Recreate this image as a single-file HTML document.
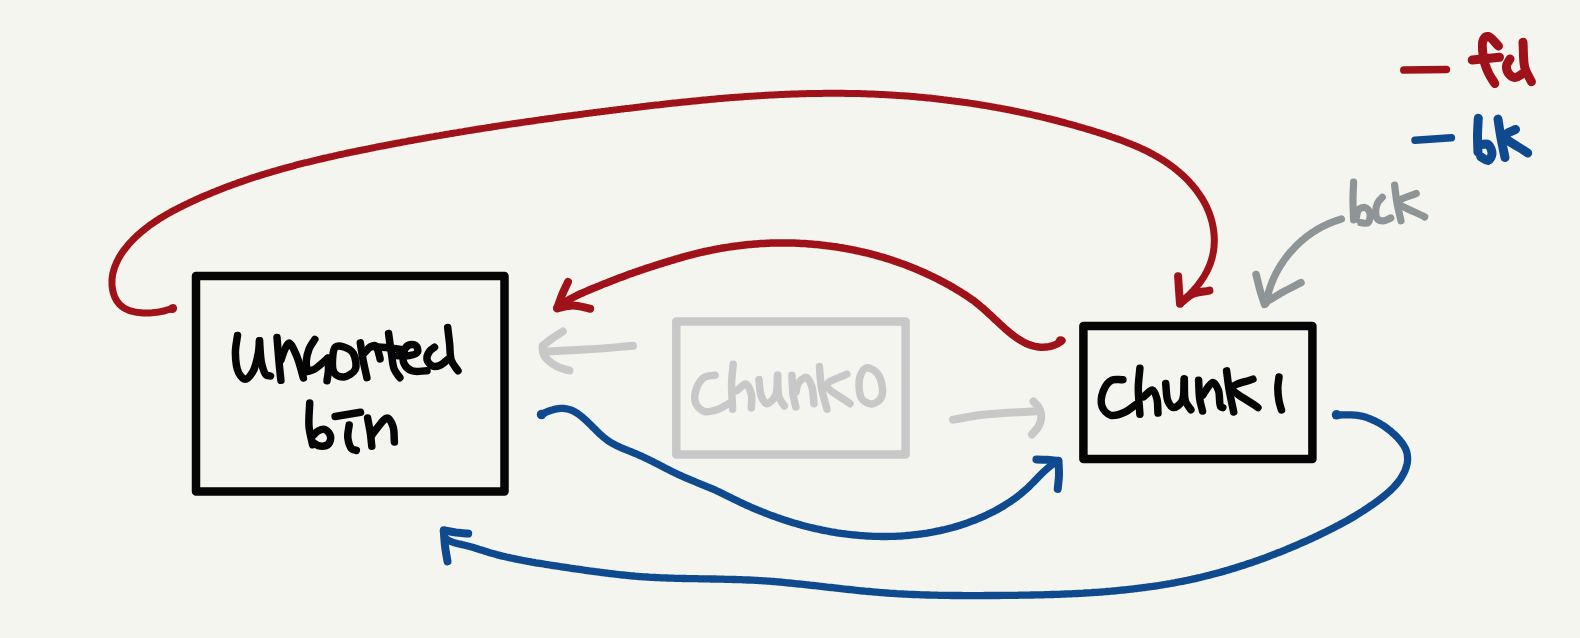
<!DOCTYPE html>
<html><head><meta charset="utf-8"><style>
html,body{margin:0;padding:0;background:#f5f5f0;}
body{width:1580px;height:638px;overflow:hidden;}
svg{display:block;}
</style></head><body>
<svg width="1580" height="638" viewBox="0 0 1580 638">
<rect width="1580" height="638" fill="#f5f5f0"/>
<g fill="none" stroke-linecap="round" stroke-linejoin="round">
<path d="M173.5,307.9 L171.9,308.5 L170.3,309.1 L168.5,309.7 L166.6,310.2 L164.7,310.8 L162.7,311.2 L160.6,311.6 L158.5,312.0 L156.4,312.3 L154.2,312.6 L152.0,312.8 L149.8,312.9 L147.5,313.0 L145.3,313.0 L143.1,313.0 L140.9,312.8 L138.7,312.6 L136.6,312.3 L134.5,311.9 L132.5,311.4 L130.5,310.9 L128.6,310.2 L126.8,309.4 L125.1,308.6 L123.5,307.6 L122.0,306.5 L120.6,305.3 L119.3,304.1 L118.2,302.7 L117.1,301.2 L116.1,299.7 L115.3,298.1 L114.5,296.4 L113.9,294.7 L113.3,292.9 L112.9,291.1 L112.5,289.2 L112.2,287.3 L112.0,285.4 L112.0,283.5 L112.0,281.5 L112.0,279.5 L112.2,277.6 L112.5,275.6 L112.8,273.7 L113.3,271.8 L113.8,269.9 L114.4,268.0 L115.0,266.2 L115.8,264.3 L116.6,262.5 L117.4,260.7 L118.4,258.9 L119.3,257.2 L120.4,255.4 L121.5,253.7 L122.6,252.0 L123.8,250.3 L125.1,248.7 L126.4,247.1 L127.7,245.5 L129.0,243.9 L130.4,242.4 L131.9,240.8 L133.3,239.3 L134.8,237.9 L136.3,236.4 L137.8,235.0 L139.4,233.6 L140.9,232.3 L142.5,231.0 L144.1,229.7 L145.7,228.4 L147.3,227.2 L148.9,225.9 L150.6,224.7 L152.2,223.6 L153.9,222.4 L155.5,221.3 L157.2,220.2 L158.9,219.1 L160.6,218.1 L162.3,217.0 L164.0,216.0 L165.7,215.0 L167.4,214.0 L169.2,213.0 L170.9,212.1 L172.6,211.1 L174.4,210.2 L176.2,209.3 L177.9,208.3 L179.7,207.4 L181.5,206.6 L183.2,205.7 L185.0,204.8 L186.8,203.9 L188.6,203.1 L190.4,202.2 L192.2,201.4 L194.0,200.6 L195.8,199.7 L197.6,198.9 L199.4,198.1 L201.2,197.3 L203.0,196.5 L204.9,195.7 L206.7,194.9 L208.5,194.2 L210.4,193.4 L212.2,192.6 L214.0,191.9 L215.9,191.2 L217.7,190.4 L219.6,189.7 L221.4,189.0 L223.3,188.2 L225.1,187.5 L227.0,186.8 L228.9,186.1 L230.7,185.4 L232.6,184.7 L234.5,184.1 L236.3,183.4 L238.2,182.7 L240.1,182.1 L242.0,181.4 L243.9,180.8 L245.8,180.1 L247.6,179.5 L249.5,178.8 L251.4,178.2 L253.3,177.6 L255.2,177.0 L257.1,176.4 L259.0,175.8 L261.0,175.2 L262.9,174.6 L264.8,174.0 L266.7,173.4 L268.6,172.8 L270.5,172.3 L272.4,171.7 L274.4,171.1 L276.3,170.6 L278.2,170.0 L280.2,169.5 L282.1,168.9 L284.0,168.4 L285.9,167.8 L287.9,167.3 L289.8,166.8 L291.8,166.3 L293.7,165.8 L295.6,165.2 L297.6,164.7 L299.5,164.2 L301.5,163.7 L303.4,163.2 L305.4,162.7 L307.3,162.3 L309.3,161.8 L311.2,161.3 L313.2,160.8 L315.2,160.3 L317.1,159.9 L319.1,159.4 L321.0,159.0 L323.0,158.5 L325.0,158.0 L326.9,157.6 L328.9,157.1 L330.9,156.7 L332.8,156.3 L334.8,155.8 L336.8,155.4 L338.7,154.9 L340.7,154.5 L342.7,154.1 L344.6,153.7 L346.6,153.2 L348.6,152.8 L350.6,152.4 L352.5,152.0 L354.5,151.6 L356.5,151.2 L358.5,150.8 L360.4,150.4 L362.4,150.0 L364.4,149.6 L366.4,149.2 L368.3,148.8 L370.3,148.4 L372.3,148.0 L374.3,147.6 L376.2,147.2 L378.2,146.8 L380.2,146.4 L382.2,146.0 L384.1,145.7 L386.1,145.3 L388.1,144.9 L390.1,144.5 L392.0,144.1 L394.0,143.8 L396.0,143.4 L398.0,143.0 L399.9,142.7 L401.9,142.3 L403.9,141.9 L405.9,141.6 L407.8,141.2 L409.8,140.8 L411.8,140.5 L413.8,140.1 L415.7,139.7 L417.7,139.4 L419.7,139.0 L421.7,138.7 L423.6,138.3 L425.6,138.0 L427.6,137.6 L429.6,137.3 L431.6,136.9 L433.5,136.6 L435.5,136.2 L437.5,135.9 L439.5,135.6 L441.4,135.2 L443.4,134.9 L445.4,134.5 L447.4,134.2 L449.3,133.9 L451.3,133.5 L453.3,133.2 L455.3,132.9 L457.2,132.6 L459.2,132.2 L461.2,131.9 L463.2,131.6 L465.1,131.2 L467.1,130.9 L469.1,130.6 L471.1,130.3 L473.0,130.0 L475.0,129.6 L477.0,129.3 L479.0,129.0 L480.9,128.7 L482.9,128.4 L484.9,128.1 L486.9,127.8 L488.9,127.5 L490.8,127.2 L492.8,126.8 L494.8,126.5 L496.8,126.2 L498.7,125.9 L500.7,125.6 L502.7,125.3 L504.7,125.0 L506.7,124.7 L508.6,124.4 L510.6,124.1 L512.6,123.8 L514.6,123.6 L516.5,123.3 L518.5,123.0 L520.5,122.7 L522.5,122.4 L524.5,122.1 L526.4,121.8 L528.4,121.5 L530.4,121.2 L532.4,121.0 L534.4,120.7 L536.3,120.4 L538.3,120.1 L540.3,119.8 L542.3,119.5 L544.3,119.3 L546.2,119.0 L548.2,118.7 L550.2,118.4 L552.2,118.2 L554.2,117.9 L556.1,117.6 L558.1,117.3 L560.1,117.1 L562.1,116.8 L564.1,116.5 L566.1,116.3 L568.0,116.0 L570.0,115.7 L572.0,115.5 L574.0,115.2 L576.0,114.9 L578.0,114.7 L579.9,114.4 L581.9,114.2 L583.9,113.9 L585.9,113.6 L587.9,113.4 L589.9,113.1 L591.9,112.9 L593.8,112.6 L595.8,112.4 L597.8,112.1 L599.8,111.9 L601.8,111.6 L603.8,111.4 L605.8,111.1 L607.8,110.9 L609.7,110.6 L611.7,110.4 L613.7,110.1 L615.7,109.9 L617.7,109.6 L619.7,109.4 L621.7,109.1 L623.7,108.9 L625.7,108.6 L627.7,108.4 L629.7,108.2 L631.6,107.9 L633.6,107.7 L635.6,107.4 L637.6,107.2 L639.6,107.0 L641.6,106.7 L643.6,106.5 L645.6,106.3 L647.6,106.0 L649.6,105.8 L651.6,105.6 L653.6,105.3 L655.6,105.1 L657.6,104.9 L659.6,104.7 L661.6,104.4 L663.5,104.2 L665.5,104.0 L667.5,103.8 L669.5,103.6 L671.5,103.3 L673.5,103.1 L675.5,102.9 L677.5,102.7 L679.5,102.5 L681.5,102.3 L683.5,102.1 L685.5,101.9 L687.5,101.7 L689.5,101.5 L691.5,101.3 L693.5,101.1 L695.5,100.9 L697.5,100.7 L699.5,100.5 L701.5,100.3 L703.5,100.1 L705.5,99.9 L707.5,99.7 L709.5,99.5 L711.5,99.3 L713.5,99.2 L715.5,99.0 L717.5,98.8 L719.5,98.6 L721.5,98.5 L723.5,98.3 L725.5,98.1 L727.5,98.0 L729.5,97.8 L731.5,97.6 L733.5,97.5 L735.5,97.3 L737.5,97.2 L739.5,97.0 L741.5,96.9 L743.5,96.7 L745.5,96.6 L747.5,96.5 L749.5,96.3 L751.5,96.2 L753.5,96.1 L755.6,95.9 L757.6,95.8 L759.6,95.7 L761.6,95.6 L763.6,95.4 L765.6,95.3 L767.6,95.2 L769.6,95.1 L771.6,95.0 L773.6,94.9 L775.6,94.8 L777.6,94.7 L779.6,94.6 L781.6,94.5 L783.6,94.4 L785.6,94.3 L787.6,94.2 L789.6,94.2 L791.6,94.1 L793.6,94.0 L795.6,94.0 L797.6,93.9 L799.6,93.8 L801.6,93.8 L803.6,93.7 L805.6,93.7 L807.6,93.6 L809.6,93.6 L811.7,93.5 L813.7,93.5 L815.7,93.4 L817.7,93.4 L819.7,93.4 L821.7,93.4 L823.7,93.3 L825.7,93.3 L827.7,93.3 L829.7,93.3 L831.7,93.3 L833.7,93.3 L835.7,93.3 L837.7,93.3 L839.7,93.3 L841.7,93.3 L843.7,93.3 L845.7,93.4 L847.7,93.4 L849.7,93.4 L851.7,93.5 L853.7,93.5 L855.7,93.5 L857.7,93.6 L859.7,93.6 L861.7,93.7 L863.7,93.8 L865.7,93.8 L867.7,93.9 L869.7,94.0 L871.7,94.0 L873.7,94.1 L875.7,94.2 L877.7,94.3 L879.7,94.4 L881.7,94.5 L883.7,94.6 L885.7,94.7 L887.7,94.8 L889.7,94.9 L891.7,95.0 L893.7,95.2 L895.7,95.3 L897.7,95.4 L899.7,95.6 L901.7,95.7 L903.7,95.8 L905.7,96.0 L907.7,96.1 L909.7,96.3 L911.7,96.5 L913.7,96.6 L915.7,96.8 L917.7,97.0 L919.7,97.2 L921.7,97.3 L923.7,97.5 L925.7,97.7 L927.7,97.9 L929.7,98.1 L931.7,98.3 L933.7,98.6 L935.7,98.8 L937.6,99.0 L939.6,99.2 L941.6,99.4 L943.6,99.7 L945.6,99.9 L947.6,100.2 L949.6,100.4 L951.6,100.7 L953.6,100.9 L955.5,101.2 L957.5,101.4 L959.5,101.7 L961.5,102.0 L963.5,102.3 L965.5,102.5 L967.5,102.8 L969.4,103.1 L971.4,103.4 L973.4,103.7 L975.4,104.0 L977.4,104.3 L979.3,104.6 L981.3,105.0 L983.3,105.3 L985.3,105.6 L987.3,105.9 L989.2,106.3 L991.2,106.6 L993.2,107.0 L995.2,107.3 L997.1,107.7 L999.1,108.0 L1001.1,108.4 L1003.0,108.8 L1005.0,109.1 L1007.0,109.5 L1008.9,109.9 L1010.9,110.3 L1012.9,110.7 L1014.8,111.1 L1016.8,111.5 L1018.8,111.9 L1020.7,112.3 L1022.7,112.7 L1024.7,113.1 L1026.6,113.6 L1028.6,114.0 L1030.5,114.4 L1032.5,114.9 L1034.5,115.3 L1036.4,115.8 L1038.4,116.2 L1040.3,116.7 L1042.3,117.1 L1044.2,117.6 L1046.2,118.1 L1048.1,118.5 L1050.1,119.0 L1052.0,119.5 L1054.0,120.0 L1055.9,120.5 L1057.9,121.0 L1059.8,121.5 L1061.7,122.0 L1063.7,122.5 L1065.6,123.0 L1067.6,123.6 L1069.5,124.1 L1071.4,124.6 L1073.4,125.2 L1075.3,125.7 L1077.3,126.3 L1079.2,126.8 L1081.1,127.4 L1083.0,127.9 L1085.0,128.5 L1086.9,129.1 L1088.8,129.6 L1090.8,130.2 L1092.7,130.8 L1094.6,131.4 L1096.5,132.0 L1098.4,132.6 L1100.4,133.2 L1102.3,133.8 L1104.2,134.4 L1106.1,135.0 L1108.0,135.7 L1109.9,136.3 L1111.8,137.0 L1113.7,137.6 L1115.6,138.3 L1117.5,138.9 L1119.4,139.6 L1121.3,140.3 L1123.2,141.0 L1125.1,141.7 L1126.9,142.4 L1128.8,143.2 L1130.7,143.9 L1132.5,144.7 L1134.4,145.4 L1136.2,146.2 L1138.0,147.0 L1139.9,147.8 L1141.7,148.7 L1143.5,149.5 L1145.3,150.4 L1147.1,151.2 L1148.8,152.1 L1150.6,153.1 L1152.4,154.0 L1154.1,154.9 L1155.8,155.9 L1157.6,156.9 L1159.3,157.9 L1161.0,159.0 L1162.7,160.0 L1164.4,161.1 L1166.0,162.2 L1167.7,163.3 L1169.3,164.5 L1170.9,165.6 L1172.5,166.8 L1174.1,168.0 L1175.7,169.3 L1177.3,170.6 L1178.8,171.9 L1180.3,173.2 L1181.9,174.5 L1183.3,175.9 L1184.8,177.3 L1186.3,178.7 L1187.7,180.1 L1189.1,181.6 L1190.4,183.1 L1191.8,184.6 L1193.1,186.1 L1194.4,187.7 L1195.6,189.3 L1196.9,190.9 L1198.0,192.5 L1199.2,194.1 L1200.3,195.8 L1201.4,197.5 L1202.5,199.2 L1203.5,200.9 L1204.5,202.7 L1205.4,204.4 L1206.3,206.2 L1207.1,208.0 L1207.9,209.9 L1208.7,211.7 L1209.4,213.6 L1210.1,215.5 L1210.7,217.4 L1211.3,219.3 L1211.8,221.2 L1212.3,223.2 L1212.7,225.2 L1213.1,227.1 L1213.4,229.1 L1213.7,231.1 L1213.9,233.1 L1214.1,235.1 L1214.2,237.2 L1214.3,239.2 L1214.3,241.2 L1214.2,243.2 L1214.1,245.2 L1214.0,247.2 L1213.7,249.2 L1213.5,251.1 L1213.1,253.1 L1212.7,255.1 L1212.3,257.0 L1211.8,258.9 L1211.2,260.8 L1210.6,262.7 L1209.9,264.6 L1209.1,266.4 L1208.3,268.3 L1207.5,270.1 L1206.6,271.9 L1205.6,273.6 L1204.6,275.4 L1203.6,277.1 L1202.5,278.8 L1201.3,280.5 L1200.2,282.1 L1199.0,283.8 L1197.7,285.4 L1196.5,286.9 L1195.2,288.5 L1193.8,290.0 L1192.5,291.5 L1191.1,293.0 L1189.7,294.5 L1188.3,295.9 L1186.8,297.3 L1185.4,298.7 L1183.9,300.0 L1182.4,301.3 L1180.9,302.6" stroke="#9f1219" stroke-width="7"/>
<path d="M1178.1,276.3C1178.4,280.9 1178.7,285.4 1179.0,290.0C1179.3,294.6 1179.7,299.2 1180.0,303.8" stroke="#9f1219" stroke-width="8"/>
<path d="M1181.0,302.5C1185.0,299.6 1188.4,295.9 1192.9,293.9C1197.8,291.8 1203.9,291.7 1209.4,290.6" stroke="#9f1219" stroke-width="8"/>
<path d="M1061.9,340.6 L1060.2,341.9 L1058.4,343.1 L1056.6,344.1 L1054.8,344.9 L1052.9,345.6 L1051.0,346.2 L1049.0,346.6 L1047.0,346.9 L1045.0,347.1 L1043.0,347.2 L1041.0,347.2 L1039.0,347.0 L1037.0,346.7 L1035.1,346.4 L1033.1,345.9 L1031.2,345.3 L1029.3,344.7 L1027.5,344.0 L1025.7,343.2 L1023.9,342.3 L1022.1,341.3 L1020.4,340.3 L1018.7,339.3 L1017.0,338.1 L1015.4,337.0 L1013.7,335.8 L1012.1,334.5 L1010.5,333.3 L1009.0,332.0 L1007.4,330.7 L1005.9,329.4 L1004.4,328.0 L1002.9,326.7 L1001.4,325.3 L999.9,324.0 L998.4,322.6 L997.0,321.2 L995.5,319.9 L994.0,318.5 L992.6,317.1 L991.1,315.7 L989.6,314.4 L988.1,313.0 L986.7,311.6 L985.2,310.3 L983.7,308.9 L982.2,307.6 L980.6,306.3 L979.1,305.0 L977.5,303.8 L976.0,302.5 L974.4,301.3 L972.8,300.1 L971.1,299.0 L969.5,297.8 L967.8,296.7 L966.2,295.5 L964.5,294.4 L962.8,293.4 L961.1,292.3 L959.4,291.2 L957.7,290.2 L956.0,289.2 L954.2,288.1 L952.5,287.1 L950.7,286.1 L949.0,285.1 L947.2,284.2 L945.5,283.2 L943.7,282.2 L941.9,281.3 L940.1,280.4 L938.3,279.4 L936.5,278.5 L934.7,277.6 L932.9,276.7 L931.1,275.9 L929.3,275.0 L927.5,274.2 L925.6,273.3 L923.8,272.5 L922.0,271.7 L920.1,270.9 L918.3,270.1 L916.4,269.3 L914.5,268.5 L912.7,267.8 L910.8,267.0 L908.9,266.3 L907.0,265.5 L905.1,264.8 L903.2,264.1 L901.3,263.4 L899.4,262.7 L897.5,262.1 L895.6,261.4 L893.7,260.8 L891.8,260.1 L889.9,259.5 L888.0,258.9 L886.0,258.3 L884.1,257.7 L882.2,257.1 L880.2,256.6 L878.3,256.0 L876.3,255.5 L874.4,254.9 L872.4,254.4 L870.5,253.9 L868.5,253.4 L866.6,252.9 L864.6,252.5 L862.6,252.0 L860.7,251.6 L858.7,251.1 L856.7,250.7 L854.7,250.3 L852.8,249.9 L850.8,249.5 L848.8,249.1 L846.8,248.7 L844.8,248.4 L842.9,248.0 L840.9,247.7 L838.9,247.4 L836.9,247.0 L834.9,246.7 L832.9,246.5 L830.9,246.2 L828.9,245.9 L826.9,245.7 L824.9,245.4 L822.9,245.2 L820.9,245.0 L818.9,244.7 L816.9,244.5 L814.9,244.4 L812.9,244.2 L810.9,244.0 L808.9,243.9 L806.9,243.7 L804.9,243.6 L802.9,243.5 L800.8,243.4 L798.8,243.3 L796.8,243.2 L794.8,243.1 L792.8,243.1 L790.8,243.0 L788.8,243.0 L786.8,242.9 L784.8,242.9 L782.7,242.9 L780.7,242.9 L778.7,242.9 L776.7,243.0 L774.7,243.0 L772.7,243.1 L770.7,243.1 L768.7,243.2 L766.6,243.3 L764.6,243.4 L762.6,243.5 L760.6,243.6 L758.6,243.7 L756.6,243.9 L754.6,244.0 L752.6,244.2 L750.6,244.4 L748.6,244.6 L746.6,244.8 L744.6,245.0 L742.6,245.2 L740.6,245.4 L738.6,245.7 L736.6,245.9 L734.6,246.2 L732.6,246.5 L730.6,246.8 L728.6,247.1 L726.6,247.4 L724.6,247.7 L722.6,248.0 L720.6,248.4 L718.7,248.7 L716.7,249.1 L714.7,249.5 L712.7,249.9 L710.8,250.3 L708.8,250.7 L706.8,251.1 L704.8,251.5 L702.9,252.0 L700.9,252.4 L698.9,252.9 L697.0,253.4 L695.0,253.9 L693.1,254.4 L691.1,254.9 L689.2,255.4 L687.2,255.9 L685.3,256.4 L683.3,257.0 L681.4,257.5 L679.5,258.1 L677.5,258.7 L675.6,259.2 L673.7,259.8 L671.7,260.4 L669.8,261.0 L667.9,261.5 L666.0,262.1 L664.0,262.7 L662.1,263.3 L660.2,263.9 L658.3,264.5 L656.4,265.1 L654.4,265.7 L652.5,266.4 L650.6,267.0 L648.7,267.6 L646.8,268.2 L644.9,268.8 L643.0,269.5 L641.1,270.1 L639.2,270.8 L637.3,271.4 L635.4,272.1 L633.5,272.7 L631.6,273.4 L629.7,274.1 L627.8,274.8 L625.9,275.5 L624.1,276.2 L622.2,276.9 L620.3,277.6 L618.4,278.3 L616.5,279.0 L614.7,279.7 L612.8,280.4 L610.9,281.2 L609.0,281.9 L607.2,282.7 L605.3,283.4 L603.4,284.1 L601.6,284.9 L599.7,285.7 L597.8,286.4 L596.0,287.2 L594.1,287.9 L592.2,288.7 L590.4,289.5 L588.5,290.3 L586.7,291.1 L584.8,291.9 L583.0,292.7 L581.1,293.5 L579.3,294.3 L577.5,295.2 L575.7,296.1 L573.9,297.0 L572.1,298.0 L570.4,298.9 L568.6,299.9 L566.9,301.0 L565.2,302.1 L563.6,303.2 L561.9,304.4 L560.3,305.6 L558.7,306.9 L557.2,308.2" stroke="#9f1219" stroke-width="7.5"/>
<path d="M568.0,281.9C566.0,286.3 563.8,290.6 562.0,295.0C560.2,299.4 558.8,303.8 557.2,308.2" stroke="#9f1219" stroke-width="8"/>
<path d="M557.2,308.2C562.5,307.3 567.8,305.3 573.2,305.4C578.8,305.5 584.5,307.6 590.1,308.7" stroke="#9f1219" stroke-width="8"/>
<path d="M1403.8,70.1 L1446.4,69.6" stroke="#9f1219" stroke-width="7.5"/>
<path d="M1498.5,46.0C1495.1,42.9 1491.1,36.9 1488.2,36.6C1486.4,36.4 1484.5,37.6 1483.5,39.4C1481.6,42.7 1482.6,52.5 1483.5,58.2C1484.3,63.3 1486.2,68.0 1488.2,72.3C1490.0,76.4 1492.6,79.8 1494.8,83.6" stroke="#9f1219" stroke-width="9"/>
<path d="M1472.2,60.1 L1499.5,57.3" stroke="#9f1219" stroke-width="9"/>
<path d="M1510.0,59.0C1508.8,61.3 1506.7,63.5 1506.5,66.0C1506.3,68.5 1507.5,72.1 1509.0,74.0C1510.4,75.8 1512.9,77.4 1515.0,77.5C1517.2,77.6 1519.7,75.2 1522.0,74.0" stroke="#9f1219" stroke-width="9"/>
<path d="M1523.0,42.2C1523.6,50.7 1523.0,60.5 1524.8,67.6C1526.2,73.1 1529.2,77.0 1531.4,81.7" stroke="#9f1219" stroke-width="9"/>
<path d="M540.9,414.8 L542.7,413.8 L544.6,412.9 L546.5,412.0 L548.5,411.2 L550.5,410.5 L552.5,409.9 L554.5,409.3 L556.6,408.9 L558.6,408.6 L560.6,408.4 L562.6,408.4 L564.5,408.5 L566.4,408.8 L568.3,409.2 L570.1,409.7 L571.8,410.4 L573.6,411.2 L575.3,412.1 L576.9,413.1 L578.5,414.2 L580.1,415.4 L581.7,416.6 L583.2,417.9 L584.7,419.2 L586.2,420.6 L587.7,422.0 L589.1,423.4 L590.6,424.8 L592.0,426.3 L593.4,427.7 L594.9,429.1 L596.3,430.6 L597.8,432.0 L599.2,433.4 L600.7,434.7 L602.2,436.1 L603.7,437.4 L605.3,438.6 L606.9,439.8 L608.5,441.0 L610.2,442.1 L611.9,443.1 L613.6,444.1 L615.4,445.0 L617.2,445.9 L619.0,446.7 L620.8,447.6 L622.7,448.4 L624.5,449.2 L626.4,449.9 L628.3,450.7 L630.2,451.4 L632.0,452.2 L633.9,453.0 L635.8,453.7 L637.7,454.5 L639.5,455.3 L641.4,456.1 L643.2,457.0 L645.0,457.8 L646.8,458.7 L648.6,459.6 L650.4,460.4 L652.2,461.3 L654.0,462.3 L655.8,463.2 L657.6,464.1 L659.4,465.0 L661.2,465.9 L663.0,466.8 L664.7,467.8 L666.5,468.7 L668.3,469.6 L670.1,470.5 L671.9,471.4 L673.7,472.3 L675.5,473.2 L677.3,474.0 L679.1,474.9 L680.9,475.7 L682.7,476.5 L684.6,477.3 L686.4,478.1 L688.3,478.9 L690.1,479.7 L692.0,480.5 L693.8,481.2 L695.7,482.0 L697.6,482.8 L699.4,483.5 L701.3,484.3 L703.1,485.0 L705.0,485.8 L706.9,486.6 L708.7,487.3 L710.6,488.1 L712.4,488.9 L714.3,489.7 L716.1,490.5 L717.9,491.4 L719.7,492.2 L721.6,493.1 L723.4,494.0 L725.2,494.9 L727.0,495.8 L728.8,496.7 L730.6,497.6 L732.4,498.5 L734.2,499.3 L736.0,500.2 L737.8,501.1 L739.6,502.0 L741.4,502.8 L743.2,503.7 L745.1,504.5 L746.9,505.4 L748.7,506.2 L750.6,507.0 L752.4,507.8 L754.3,508.6 L756.1,509.4 L758.0,510.2 L759.8,510.9 L761.7,511.7 L763.6,512.4 L765.4,513.2 L767.3,513.9 L769.2,514.6 L771.1,515.3 L773.0,516.0 L774.9,516.7 L776.8,517.4 L778.7,518.0 L780.6,518.7 L782.5,519.3 L784.4,520.0 L786.3,520.6 L788.2,521.2 L790.1,521.8 L792.0,522.4 L794.0,523.0 L795.9,523.5 L797.8,524.1 L799.8,524.6 L801.7,525.2 L803.6,525.7 L805.6,526.2 L807.5,526.7 L809.5,527.2 L811.4,527.7 L813.4,528.1 L815.3,528.6 L817.3,529.0 L819.3,529.4 L821.2,529.9 L823.2,530.3 L825.2,530.7 L827.1,531.0 L829.1,531.4 L831.1,531.8 L833.1,532.1 L835.0,532.4 L837.0,532.8 L839.0,533.1 L841.0,533.4 L843.0,533.6 L845.0,533.9 L847.0,534.2 L848.9,534.4 L850.9,534.6 L852.9,534.8 L854.9,535.0 L856.9,535.2 L858.9,535.4 L860.9,535.6 L862.9,535.7 L864.9,535.9 L866.9,536.0 L869.0,536.1 L871.0,536.2 L873.0,536.3 L875.0,536.3 L877.0,536.4 L879.0,536.4 L881.0,536.5 L883.0,536.5 L885.0,536.5 L887.1,536.5 L889.1,536.4 L891.1,536.4 L893.1,536.3 L895.1,536.3 L897.1,536.2 L899.2,536.1 L901.2,536.0 L903.2,535.8 L905.2,535.7 L907.2,535.5 L909.2,535.3 L911.2,535.1 L913.2,534.9 L915.2,534.7 L917.2,534.5 L919.2,534.2 L921.2,534.0 L923.2,533.7 L925.2,533.4 L927.2,533.1 L929.2,532.7 L931.2,532.4 L933.2,532.0 L935.1,531.6 L937.1,531.2 L939.1,530.8 L941.0,530.4 L943.0,529.9 L945.0,529.5 L946.9,529.0 L948.9,528.5 L950.8,528.0 L952.7,527.5 L954.7,526.9 L956.6,526.4 L958.5,525.8 L960.5,525.2 L962.4,524.6 L964.3,523.9 L966.2,523.3 L968.1,522.6 L969.9,521.9 L971.8,521.2 L973.7,520.5 L975.6,519.8 L977.4,519.0 L979.3,518.2 L981.1,517.5 L983.0,516.6 L984.8,515.8 L986.6,515.0 L988.4,514.1 L990.2,513.2 L992.0,512.3 L993.8,511.4 L995.6,510.5 L997.4,509.5 L999.1,508.5 L1000.9,507.5 L1002.6,506.5 L1004.3,505.5 L1006.0,504.4 L1007.7,503.3 L1009.4,502.2 L1011.1,501.1 L1012.7,500.0 L1014.4,498.8 L1016.0,497.6 L1017.6,496.4 L1019.2,495.2 L1020.7,493.9 L1022.3,492.6 L1023.8,491.3 L1025.3,490.0 L1026.8,488.7 L1028.3,487.3 L1029.7,485.9 L1031.1,484.5 L1032.6,483.0 L1034.0,481.6 L1035.4,480.2 L1036.8,478.7 L1038.2,477.3 L1039.6,475.8 L1041.0,474.4 L1042.4,473.0 L1043.9,471.6 L1045.4,470.3 L1046.9,468.9 L1048.4,467.6 L1049.9,466.4 L1051.5,465.1 L1053.2,464.0 L1054.9,462.8 L1056.6,461.8 L1058.4,460.7" stroke="#104a8e" stroke-width="7.3"/>
<path d="M1036.4,459.4C1039.9,459.5 1043.5,459.6 1047.0,459.8C1050.6,460.0 1054.1,460.4 1057.7,460.7" stroke="#104a8e" stroke-width="8"/>
<path d="M1058.5,461.0C1058.7,465.7 1059.1,470.4 1059.0,475.1C1058.9,479.7 1058.1,484.3 1057.7,488.9" stroke="#104a8e" stroke-width="8"/>
<path d="M1335.9,415.1 L1338.1,415.1 L1340.1,415.0 L1342.2,414.9 L1344.2,414.9 L1346.2,414.9 L1348.2,414.9 L1350.1,414.9 L1352.1,414.9 L1354.0,415.1 L1355.9,415.2 L1357.8,415.5 L1359.6,415.7 L1361.5,416.1 L1363.3,416.6 L1365.1,417.1 L1366.9,417.6 L1368.8,418.3 L1370.6,419.0 L1372.4,419.8 L1374.2,420.6 L1376.0,421.5 L1377.8,422.4 L1379.6,423.4 L1381.4,424.5 L1383.2,425.6 L1384.9,426.8 L1386.6,428.0 L1388.3,429.3 L1390.0,430.6 L1391.6,432.0 L1393.2,433.4 L1394.8,434.8 L1396.3,436.3 L1397.7,437.8 L1399.2,439.4 L1400.5,441.0 L1401.8,442.6 L1403.0,444.3 L1404.0,446.0 L1405.0,447.7 L1405.8,449.4 L1406.5,451.2 L1407.0,453.0 L1407.3,454.8 L1407.5,456.6 L1407.6,458.4 L1407.6,460.3 L1407.4,462.1 L1407.1,463.9 L1406.6,465.7 L1406.1,467.5 L1405.5,469.3 L1404.8,471.1 L1403.9,472.9 L1403.0,474.7 L1402.0,476.4 L1401.0,478.1 L1399.9,479.7 L1398.7,481.4 L1397.4,483.0 L1396.1,484.5 L1394.8,486.0 L1393.4,487.5 L1391.9,489.0 L1390.5,490.4 L1388.9,491.8 L1387.4,493.2 L1385.8,494.5 L1384.2,495.8 L1382.6,497.1 L1381.0,498.4 L1379.3,499.7 L1377.7,500.9 L1376.0,502.1 L1374.4,503.3 L1372.7,504.5 L1371.0,505.6 L1369.3,506.8 L1367.7,507.9 L1366.0,509.0 L1364.3,510.1 L1362.6,511.2 L1360.9,512.3 L1359.2,513.4 L1357.5,514.4 L1355.8,515.5 L1354.1,516.5 L1352.4,517.5 L1350.7,518.5 L1349.0,519.5 L1347.3,520.5 L1345.5,521.4 L1343.8,522.4 L1342.1,523.3 L1340.3,524.3 L1338.6,525.2 L1336.8,526.1 L1335.1,527.0 L1333.3,527.9 L1331.6,528.8 L1329.8,529.7 L1328.1,530.6 L1326.3,531.5 L1324.5,532.3 L1322.7,533.2 L1320.9,534.1 L1319.2,534.9 L1317.4,535.8 L1315.6,536.6 L1313.8,537.5 L1312.0,538.3 L1310.2,539.1 L1308.3,540.0 L1306.5,540.8 L1304.7,541.6 L1302.9,542.4 L1301.1,543.2 L1299.2,544.0 L1297.4,544.8 L1295.6,545.6 L1293.7,546.4 L1291.9,547.2 L1290.0,548.0 L1288.2,548.7 L1286.3,549.5 L1284.4,550.3 L1282.6,551.0 L1280.7,551.8 L1278.8,552.5 L1277.0,553.2 L1275.1,554.0 L1273.2,554.7 L1271.3,555.4 L1269.4,556.1 L1267.6,556.9 L1265.7,557.6 L1263.8,558.3 L1261.9,558.9 L1260.0,559.6 L1258.1,560.3 L1256.2,561.0 L1254.3,561.6 L1252.4,562.3 L1250.4,563.0 L1248.5,563.6 L1246.6,564.2 L1244.7,564.9 L1242.8,565.5 L1240.8,566.1 L1238.9,566.7 L1237.0,567.3 L1235.1,567.9 L1233.1,568.5 L1231.2,569.1 L1229.3,569.7 L1227.3,570.3 L1225.4,570.8 L1223.5,571.4 L1221.5,571.9 L1219.6,572.5 L1217.6,573.0 L1215.7,573.5 L1213.7,574.0 L1211.8,574.5 L1209.8,575.1 L1207.9,575.5 L1205.9,576.0 L1204.0,576.5 L1202.0,577.0 L1200.1,577.5 L1198.1,577.9 L1196.2,578.4 L1194.2,578.8 L1192.2,579.2 L1190.3,579.7 L1188.3,580.1 L1186.4,580.5 L1184.4,580.9 L1182.4,581.3 L1180.5,581.7 L1178.5,582.0 L1176.5,582.4 L1174.6,582.8 L1172.6,583.1 L1170.6,583.5 L1168.7,583.8 L1166.7,584.2 L1164.7,584.5 L1162.7,584.8 L1160.8,585.2 L1158.8,585.5 L1156.8,585.8 L1154.8,586.1 L1152.9,586.4 L1150.9,586.6 L1148.9,586.9 L1146.9,587.2 L1145.0,587.5 L1143.0,587.7 L1141.0,588.0 L1139.0,588.2 L1137.0,588.5 L1135.0,588.7 L1133.1,589.0 L1131.1,589.2 L1129.1,589.4 L1127.1,589.6 L1125.1,589.8 L1123.1,590.0 L1121.1,590.2 L1119.2,590.4 L1117.2,590.6 L1115.2,590.8 L1113.2,591.0 L1111.2,591.2 L1109.2,591.3 L1107.2,591.5 L1105.2,591.7 L1103.2,591.8 L1101.2,592.0 L1099.3,592.1 L1097.3,592.3 L1095.3,592.4 L1093.3,592.5 L1091.3,592.7 L1089.3,592.8 L1087.3,592.9 L1085.3,593.0 L1083.3,593.2 L1081.3,593.3 L1079.3,593.4 L1077.3,593.5 L1075.3,593.6 L1073.3,593.7 L1071.3,593.8 L1069.3,593.9 L1067.3,593.9 L1065.3,594.0 L1063.3,594.1 L1061.3,594.2 L1059.3,594.3 L1057.3,594.3 L1055.3,594.4 L1053.3,594.5 L1051.3,594.5 L1049.3,594.6 L1047.3,594.6 L1045.3,594.7 L1043.3,594.8 L1041.3,594.8 L1039.3,594.9 L1037.3,594.9 L1035.2,594.9 L1033.2,595.0 L1031.2,595.0 L1029.2,595.1 L1027.2,595.1 L1025.2,595.1 L1023.2,595.2 L1021.2,595.2 L1019.2,595.2 L1017.2,595.3 L1015.2,595.3 L1013.2,595.3 L1011.2,595.3 L1009.2,595.4 L1007.2,595.4 L1005.1,595.4 L1003.1,595.4 L1001.1,595.4 L999.1,595.5 L997.1,595.5 L995.1,595.5 L993.1,595.5 L991.1,595.5 L989.1,595.5 L987.1,595.5 L985.1,595.5 L983.1,595.6 L981.1,595.6 L979.0,595.6 L977.0,595.6 L975.0,595.6 L973.0,595.6 L971.0,595.6 L969.0,595.6 L967.0,595.6 L965.0,595.6 L963.0,595.6 L961.0,595.5 L959.0,595.5 L957.0,595.5 L954.9,595.5 L952.9,595.5 L950.9,595.5 L948.9,595.4 L946.9,595.4 L944.9,595.4 L942.9,595.3 L940.9,595.3 L938.9,595.3 L936.9,595.2 L934.9,595.2 L932.9,595.1 L930.9,595.1 L928.9,595.0 L926.9,595.0 L924.9,594.9 L922.9,594.8 L920.9,594.8 L918.8,594.7 L916.8,594.6 L914.8,594.5 L912.8,594.5 L910.8,594.4 L908.8,594.3 L906.8,594.2 L904.8,594.1 L902.8,594.0 L900.8,593.9 L898.8,593.8 L896.8,593.7 L894.8,593.5 L892.8,593.4 L890.8,593.3 L888.8,593.1 L886.8,593.0 L884.8,592.9 L882.8,592.7 L880.8,592.6 L878.8,592.4 L876.8,592.2 L874.9,592.1 L872.9,591.9 L870.9,591.7 L868.9,591.5 L866.9,591.3 L864.9,591.2 L862.9,591.0 L860.9,590.8 L858.9,590.6 L856.9,590.4 L854.9,590.2 L852.9,589.9 L850.9,589.7 L848.9,589.5 L846.9,589.3 L845.0,589.1 L843.0,588.9 L841.0,588.6 L839.0,588.4 L837.0,588.2 L835.0,588.0 L833.0,587.7 L831.0,587.5 L829.0,587.3 L827.0,587.1 L825.1,586.8 L823.1,586.6 L821.1,586.4 L819.1,586.2 L817.1,585.9 L815.1,585.7 L813.1,585.5 L811.1,585.3 L809.1,585.0 L807.1,584.8 L805.1,584.6 L803.2,584.4 L801.2,584.2 L799.2,584.0 L797.2,583.8 L795.2,583.6 L793.2,583.4 L791.2,583.2 L789.2,583.0 L787.2,582.8 L785.2,582.6 L783.2,582.4 L781.2,582.2 L779.2,582.0 L777.3,581.9 L775.3,581.7 L773.3,581.5 L771.3,581.4 L769.3,581.2 L767.3,581.1 L765.3,580.9 L763.3,580.8 L761.3,580.7 L759.3,580.6 L757.3,580.4 L755.3,580.3 L753.3,580.2 L751.3,580.1 L749.3,580.0 L747.3,580.0 L745.3,579.9 L743.3,579.8 L741.3,579.7 L739.3,579.6 L737.3,579.6 L735.3,579.5 L733.3,579.5 L731.3,579.4 L729.3,579.3 L727.3,579.3 L725.2,579.3 L723.2,579.2 L721.2,579.2 L719.2,579.1 L717.2,579.1 L715.2,579.0 L713.2,579.0 L711.2,579.0 L709.2,578.9 L707.2,578.9 L705.2,578.9 L703.2,578.8 L701.2,578.8 L699.2,578.8 L697.2,578.7 L695.2,578.7 L693.2,578.7 L691.2,578.6 L689.1,578.6 L687.1,578.6 L685.1,578.5 L683.1,578.5 L681.1,578.4 L679.1,578.4 L677.1,578.3 L675.1,578.3 L673.1,578.2 L671.1,578.1 L669.1,578.1 L667.1,578.0 L665.1,577.9 L663.1,577.9 L661.1,577.8 L659.1,577.7 L657.1,577.6 L655.1,577.5 L653.1,577.4 L651.1,577.3 L649.1,577.2 L647.1,577.0 L645.1,576.9 L643.1,576.8 L641.1,576.6 L639.1,576.5 L637.1,576.3 L635.1,576.2 L633.1,576.0 L631.1,575.8 L629.1,575.6 L627.1,575.4 L625.1,575.2 L623.1,575.0 L621.1,574.8 L619.2,574.6 L617.2,574.4 L615.2,574.2 L613.2,573.9 L611.2,573.7 L609.2,573.5 L607.2,573.2 L605.2,573.0 L603.2,572.7 L601.2,572.5 L599.3,572.2 L597.3,571.9 L595.3,571.7 L593.3,571.4 L591.3,571.1 L589.3,570.9 L587.3,570.6 L585.3,570.3 L583.4,570.0 L581.4,569.7 L579.4,569.4 L577.4,569.1 L575.4,568.9 L573.4,568.6 L571.4,568.3 L569.5,568.0 L567.5,567.7 L565.5,567.4 L563.5,567.1 L561.5,566.8 L559.5,566.5 L557.6,566.2 L555.6,565.9 L553.6,565.6 L551.6,565.3 L549.6,565.0 L547.6,564.7 L545.7,564.4 L543.7,564.0 L541.7,563.7 L539.7,563.4 L537.7,563.1 L535.8,562.8 L533.8,562.4 L531.8,562.1 L529.8,561.7 L527.9,561.4 L525.9,561.0 L523.9,560.7 L522.0,560.3 L520.0,559.9 L518.0,559.5 L516.1,559.1 L514.1,558.7 L512.2,558.3 L510.2,557.9 L508.3,557.4 L506.3,557.0 L504.4,556.5 L502.4,556.1 L500.5,555.6 L498.5,555.1 L496.6,554.6 L494.7,554.0 L492.7,553.5 L490.8,553.0 L488.9,552.4 L487.0,551.8 L485.0,551.2 L483.1,550.6 L481.2,550.0 L479.3,549.4 L477.4,548.8 L475.5,548.2 L473.6,547.6 L471.6,547.0 L469.7,546.5 L467.8,546.0 L465.8,545.5 L463.9,545.0 L462.0,544.6 L460.0,544.1 L458.1,543.7 L456.2,543.2 L454.4,542.7 L452.6,542.1 L450.8,541.5 L449.2,540.7 L447.6,539.9 L446.1,538.9 L444.7,537.7" stroke="#104a8e" stroke-width="7.3"/>
<path d="M443.8,530.3C447.9,531.0 451.9,531.9 456.0,532.5C460.1,533.0 464.1,533.2 468.2,533.6" stroke="#104a8e" stroke-width="8"/>
<path d="M443.8,531.0C444.2,536.0 444.4,541.0 445.0,546.0C445.6,551.1 446.7,556.3 447.5,561.4" stroke="#104a8e" stroke-width="8"/>
<path d="M1415.0,140.3 L1451.4,137.8" stroke="#104a8e" stroke-width="7.5"/>
<path d="M1478.3,118.2C1478.0,123.8 1477.6,129.4 1477.5,135.0C1477.4,140.6 1477.8,146.3 1477.9,152.0" stroke="#104a8e" stroke-width="9"/>
<path d="M1480.7,144.5C1483.2,144.5 1486.4,143.3 1488.2,144.5C1490.3,145.9 1492.2,151.1 1492.0,153.9C1491.8,156.3 1490.0,160.0 1488.2,160.5C1486.3,161.1 1483.2,158.0 1480.7,156.7" stroke="#104a8e" stroke-width="9"/>
<path d="M1498.0,119.1C1499.0,125.4 1499.8,131.7 1501.0,138.0C1502.2,144.5 1503.7,151.1 1505.0,157.6" stroke="#104a8e" stroke-width="9"/>
<path d="M1515.5,129.4C1512.0,131.6 1505.1,133.2 1505.0,136.0C1504.8,140.3 1520.1,147.3 1527.7,153.0" stroke="#104a8e" stroke-width="9"/>
<path d="M1341.4,219.1 L1339.4,219.7 L1337.5,220.3 L1335.6,220.9 L1333.7,221.6 L1331.8,222.3 L1329.9,223.1 L1328.0,223.9 L1326.2,224.8 L1324.3,225.6 L1322.5,226.6 L1320.7,227.5 L1318.9,228.5 L1317.1,229.5 L1315.4,230.6 L1313.7,231.7 L1312.0,232.8 L1310.3,234.0 L1308.6,235.2 L1307.0,236.4 L1305.4,237.7 L1303.8,239.0 L1302.2,240.3 L1300.6,241.7 L1299.1,243.1 L1297.6,244.5 L1296.2,245.9 L1294.7,247.4 L1293.3,248.9 L1291.9,250.4 L1290.5,251.9 L1289.2,253.5 L1287.9,255.1 L1286.6,256.7 L1285.4,258.3 L1284.2,260.0 L1283.0,261.7 L1281.9,263.4 L1280.7,265.1 L1279.7,266.8 L1278.6,268.6 L1277.6,270.4 L1276.6,272.2 L1275.7,274.0 L1274.8,275.8 L1273.9,277.7 L1273.1,279.6 L1272.3,281.4 L1271.6,283.3 L1270.8,285.2 L1270.2,287.2 L1269.5,289.1 L1268.9,291.0 L1268.4,293.0 L1267.9,295.0 L1267.4,296.9 L1267.0,298.9 L1266.6,300.9 L1266.3,302.9" stroke="#8e9597" stroke-width="7.3"/>
<path d="M1256.1,274.5C1257.4,279.7 1258.6,284.9 1260.0,290.0C1261.4,294.9 1263.0,299.7 1264.5,304.5" stroke="#8e9597" stroke-width="7.5"/>
<path d="M1266.0,302.0C1271.7,298.7 1277.2,295.2 1283.0,292.0C1288.9,288.8 1295.0,285.8 1301.0,282.7" stroke="#8e9597" stroke-width="7.5"/>
<path d="M1353.6,182.2C1353.4,188.1 1353.0,193.9 1353.0,200.0C1353.0,206.4 1353.4,213.3 1353.6,219.9" stroke="#8e9597" stroke-width="7.2"/>
<path d="M1356.0,219.0C1356.9,215.8 1356.9,211.4 1358.8,209.5C1360.4,208.0 1363.6,207.0 1365.4,207.6C1367.3,208.2 1369.5,211.0 1370.0,213.3C1370.6,215.9 1369.8,221.2 1368.0,222.7C1366.4,224.0 1363.1,222.7 1360.7,222.7" stroke="#8e9597" stroke-width="7.2"/>
<path d="M1382.3,197.3C1380.7,199.2 1378.7,200.8 1377.6,203.0C1376.4,205.4 1375.7,208.7 1375.7,211.4C1375.7,214.0 1376.1,217.5 1377.6,219.0C1378.9,220.4 1381.3,220.9 1383.3,220.8C1385.6,220.7 1388.3,218.9 1390.8,218.0" stroke="#8e9597" stroke-width="7.2"/>
<path d="M1394.6,185.0C1395.4,191.0 1395.9,197.0 1397.0,203.0C1398.1,209.0 1399.7,214.9 1401.0,220.8" stroke="#8e9597" stroke-width="7.2"/>
<path d="M1416.2,193.5C1410.2,196.3 1398.4,198.6 1398.3,202.0C1398.1,206.2 1415.9,212.0 1424.7,217.0" stroke="#8e9597" stroke-width="7.2"/>
<path d="M676.3,321.6 L905.6,321.6 L905.6,454.6 L676.3,454.6 L676.3,321.6" stroke="#c8c8c8" stroke-width="8.5"/>
<path d="M633.0,345.8C617.3,347.1 601.1,348.6 585.8,349.6C571.5,350.5 557.9,350.9 544.0,351.5" stroke="#c8c8c8" stroke-width="8"/>
<path d="M562.8,331.5C559.2,333.8 555.4,336.1 552.0,338.5C548.8,340.8 546.0,343.2 543.0,345.5" stroke="#c8c8c8" stroke-width="8"/>
<path d="M542.5,347.0C542.8,349.3 542.6,351.8 543.5,354.0C544.5,356.4 546.3,358.6 548.5,360.6C551.1,363.0 554.9,365.5 558.4,367.2C561.9,368.8 565.7,369.4 569.4,370.5" stroke="#c8c8c8" stroke-width="8"/>
<path d="M953.0,419.6C963.6,417.9 973.0,415.9 984.9,414.6C999.8,413.0 1018.5,412.4 1035.3,411.3" stroke="#c8c8c8" stroke-width="8"/>
<path d="M1033.5,401.5C1035.2,403.3 1037.2,404.9 1038.5,407.0C1039.7,409.1 1040.6,411.6 1041.0,414.0C1041.4,416.3 1041.3,418.7 1040.8,421.0C1040.2,423.4 1038.9,425.8 1037.5,428.0C1036.0,430.3 1033.8,432.3 1032.0,434.4" stroke="#c8c8c8" stroke-width="8"/>
<path d="M715.1,375.2C711.4,375.9 707.1,375.4 704.1,377.4C700.8,379.6 698.0,384.3 696.5,388.4C695.0,392.7 694.0,398.7 695.4,402.6C696.7,406.2 700.5,410.2 704.1,411.4C708.0,412.7 714.2,410.6 718.4,409.2C722.1,407.9 725.0,405.5 728.3,403.7" stroke="#c8c8c8" stroke-width="7.5"/>
<path d="M733.2,364.3C732.7,370.5 731.8,376.2 731.6,382.9C731.4,390.9 732.3,400.4 732.6,409.2" stroke="#c8c8c8" stroke-width="7.5"/>
<path d="M737.0,390.6C739.9,388.4 743.4,383.5 745.8,384.0C748.2,384.5 750.3,390.2 751.3,393.9C752.4,398.1 751.3,403.4 751.3,408.1" stroke="#c8c8c8" stroke-width="7.5"/>
<path d="M759.0,379.6C759.7,385.1 759.5,391.7 761.2,396.0C762.5,399.2 764.5,403.4 766.7,403.7C769.1,404.0 773.5,399.7 775.4,396.0C777.9,391.1 776.9,382.1 777.6,375.2" stroke="#c8c8c8" stroke-width="7.5"/>
<path d="M777.6,375.2C778.1,382.5 777.3,391.5 779.0,397.0C780.2,400.8 782.5,403.0 784.3,406.0" stroke="#c8c8c8" stroke-width="7.5"/>
<path d="M791.9,375.2C792.3,381.4 792.2,388.2 793.0,393.9C793.6,398.7 794.9,402.6 795.8,407.0" stroke="#c8c8c8" stroke-width="7.5"/>
<path d="M796.0,392.0C796.8,389.0 796.8,385.3 798.5,382.9C800.2,380.5 804.0,377.0 806.2,377.4C808.5,377.9 810.4,382.6 811.7,386.2C813.4,390.9 813.2,397.9 813.9,403.7" stroke="#c8c8c8" stroke-width="7.5"/>
<path d="M819.4,366.5C820.1,373.8 820.3,381.2 821.6,388.4C822.9,395.5 825.2,402.3 827.0,409.2" stroke="#c8c8c8" stroke-width="7.5"/>
<path d="M846.8,374.1C840.2,377.8 827.4,380.6 827.0,385.1C826.6,390.2 842.3,397.5 850.0,403.7" stroke="#c8c8c8" stroke-width="7.5"/>
<path d="M866.0,368.0C868.6,367.3 873.4,369.5 876.0,372.0C879.0,374.8 881.2,380.6 882.0,385.0C882.8,389.2 882.9,394.8 881.0,398.0C879.3,400.9 875.1,403.8 872.0,404.0C868.8,404.2 864.2,401.8 862.0,399.0C859.6,396.0 859.1,390.3 859.0,386.0C858.9,381.9 859.5,377.2 861.0,374.0C862.2,371.5 863.8,368.6 866.0,368.0" stroke="#c8c8c8" stroke-width="7.5"/>
<path d="M196.0,276.0 L504.5,276.0 L504.5,491.5 L196.0,491.5 L196.0,276.0" stroke="#050505" stroke-width="8.5"/>
<path d="M1083.4,326.0 L1312.4,326.0 L1312.4,459.0 L1083.4,459.0 L1083.4,326.0" stroke="#050505" stroke-width="8.5"/>
<path d="M237.5,335.4C236.8,341.2 235.3,346.9 235.4,352.9C235.5,359.3 236.3,368.0 238.6,372.6C240.2,375.7 242.9,379.2 245.2,379.2C247.7,379.2 250.8,375.0 252.9,371.6C255.7,367.0 257.3,358.5 258.4,352.9C259.2,348.5 259.1,344.8 259.5,340.8" stroke="#050505" stroke-width="7.5"/>
<path d="M259.5,340.8C260.2,348.5 260.2,357.7 261.7,363.9C262.8,368.3 264.0,373.0 266.0,374.8C267.3,375.9 269.0,375.6 270.5,376.0" stroke="#050505" stroke-width="7.5"/>
<path d="M277.0,337.5C277.7,346.3 278.5,356.1 279.2,363.9C279.8,370.0 280.3,374.8 280.9,380.3" stroke="#050505" stroke-width="7.5"/>
<path d="M281.0,360.0C282.3,356.3 283.4,352.0 285.0,349.0C286.2,346.6 287.6,342.9 289.1,343.0C291.3,343.1 294.6,351.1 296.8,356.2C299.5,362.4 301.2,370.7 303.4,378.0" stroke="#050505" stroke-width="7.5"/>
<path d="M314.8,339.4C312.9,342.5 310.5,345.3 309.1,348.8C307.6,352.5 306.6,357.1 306.3,361.0C306.0,364.6 306.9,367.9 307.2,371.4" stroke="#050505" stroke-width="7.5"/>
<path d="M307.2,371.4C309.4,370.8 311.3,370.8 313.8,369.5C317.8,367.4 323.2,362.0 327.9,358.2" stroke="#050505" stroke-width="7.5"/>
<path d="M327.9,358.2C328.1,362.1 328.7,366.2 328.5,370.0C328.3,373.7 327.5,377.2 327.0,380.8" stroke="#050505" stroke-width="7.5"/>
<path d="M343.9,347.0C341.2,346.1 337.4,345.5 335.5,347.0C333.3,348.7 332.9,354.2 332.6,358.2C332.3,362.8 332.1,370.2 334.5,373.3C336.5,375.8 340.7,377.3 343.9,377.0C347.6,376.6 353.5,373.1 355.2,369.5C357.0,365.5 355.6,357.3 353.3,353.5C351.4,350.3 347.1,348.0 343.9,347.0" stroke="#050505" stroke-width="7.5"/>
<path d="M360.3,342.9C361.3,348.8 362.1,354.8 363.2,360.7C364.3,366.4 365.7,372.0 366.9,377.7" stroke="#050505" stroke-width="7.5"/>
<path d="M364.1,353.2C366.3,351.0 368.5,347.8 370.7,346.6C372.3,345.8 374.1,345.0 375.4,345.7C377.3,346.7 378.4,352.6 379.2,355.1C379.7,356.6 379.8,357.6 380.1,358.9" stroke="#050505" stroke-width="7.5"/>
<path d="M372.0,346.5C376.7,346.8 381.3,347.0 386.0,347.5C390.9,348.0 395.9,348.8 400.8,349.5" stroke="#050505" stroke-width="7.5"/>
<path d="M388.6,333.5C389.5,340.1 390.4,347.0 391.4,353.2C392.3,358.8 392.5,364.8 394.2,369.2C395.6,372.7 398.0,374.9 399.9,377.7" stroke="#050505" stroke-width="7.5"/>
<path d="M397.8,355.7C401.6,355.7 405.7,356.4 409.1,355.7C412.2,355.1 416.7,353.9 417.6,352.0C418.4,350.3 417.2,346.5 415.7,345.4C414.1,344.2 410.2,344.3 408.2,345.4C406.0,346.6 404.2,350.0 403.5,352.9C402.7,356.2 402.9,361.2 404.4,364.2C405.8,367.0 408.7,369.6 411.9,370.8C415.9,372.3 422.0,370.8 427.0,370.8" stroke="#050505" stroke-width="7.5"/>
<path d="M434.5,347.3C432.9,348.5 431.0,349.3 429.8,351.0C428.3,353.1 426.5,357.0 427.0,359.5C427.5,362.0 430.3,365.2 432.6,366.1C434.8,366.9 437.8,366.2 440.2,365.2C442.9,364.1 445.2,361.4 447.7,359.5" stroke="#050505" stroke-width="7.5"/>
<path d="M447.7,327.5C448.3,332.8 449.0,338.1 449.6,343.5C450.2,349.1 449.7,355.7 451.4,360.5C452.8,364.6 455.8,367.4 458.0,370.8" stroke="#050505" stroke-width="7.5"/>
<path d="M309.7,403.1C309.5,410.9 308.4,419.1 309.0,426.4C309.5,432.9 311.4,438.7 312.6,444.8" stroke="#050505" stroke-width="7.5"/>
<path d="M312.5,436.0C314.3,434.3 315.9,432.1 318.0,431.0C320.1,429.9 323.0,428.8 325.0,429.5C327.2,430.3 329.9,433.6 330.5,436.0C331.1,438.4 330.2,442.3 328.5,444.0C326.8,445.7 322.6,446.3 320.0,446.0C317.6,445.8 315.7,444.0 313.5,443.0" stroke="#050505" stroke-width="7.5"/>
<path d="M349.2,425.0C348.7,429.2 347.3,433.6 347.8,437.7C348.3,441.6 350.0,447.1 352.0,449.0C353.2,450.2 354.9,449.9 356.3,450.4" stroke="#050505" stroke-width="7.5"/>
<path d="M335.1,416.5 L360.5,412.3" stroke="#050505" stroke-width="7.5"/>
<path d="M367.6,418.0C368.5,423.2 369.7,428.6 370.4,433.5C371.0,437.9 371.3,442.0 371.8,446.2" stroke="#050505" stroke-width="7.5"/>
<path d="M372.0,435.0C373.8,432.6 375.2,430.3 377.4,427.8C380.1,424.7 384.6,417.7 387.3,418.0C389.6,418.2 391.8,423.0 393.0,426.4C394.5,430.6 393.9,436.8 394.4,442.0" stroke="#050505" stroke-width="7.5"/>
<path d="M1122.9,379.7C1119.2,379.9 1115.1,378.6 1111.9,380.2C1108.3,382.0 1104.9,386.9 1103.2,391.2C1101.5,395.7 1100.6,402.5 1102.1,406.6C1103.5,410.3 1107.2,414.3 1110.8,415.3C1114.7,416.4 1120.8,413.9 1125.1,412.0C1129.2,410.2 1132.4,406.9 1136.1,404.4" stroke="#050505" stroke-width="7.5"/>
<path d="M1139.9,368.2C1139.4,374.8 1138.4,380.9 1138.3,387.9C1138.2,396.0 1139.4,405.4 1139.9,414.2" stroke="#050505" stroke-width="7.5"/>
<path d="M1143.7,396.7C1146.6,394.5 1150.3,389.6 1152.5,390.1C1154.6,390.6 1156.0,395.5 1156.9,398.9C1158.0,403.0 1157.6,408.4 1158.0,413.1" stroke="#050505" stroke-width="7.5"/>
<path d="M1165.7,383.5C1166.4,389.3 1166.1,396.7 1167.9,401.0C1169.2,404.0 1171.2,407.4 1173.4,407.6C1175.9,407.9 1180.2,404.4 1182.1,401.0C1184.8,396.2 1183.6,386.4 1184.3,379.1" stroke="#050505" stroke-width="7.5"/>
<path d="M1184.3,379.1C1184.7,386.4 1183.7,395.5 1185.4,401.0C1186.6,404.8 1189.1,406.9 1190.9,409.8" stroke="#050505" stroke-width="7.5"/>
<path d="M1198.6,380.2C1199.0,386.4 1198.9,393.4 1199.7,398.9C1200.3,403.4 1201.6,407.0 1202.5,411.0" stroke="#050505" stroke-width="7.5"/>
<path d="M1203.0,395.0C1203.7,393.7 1204.1,392.7 1205.2,391.2C1206.9,388.8 1210.6,382.3 1212.9,382.4C1215.0,382.5 1217.1,386.9 1218.4,390.1C1220.1,394.4 1219.0,404.4 1220.6,406.6C1221.2,407.4 1222.1,407.3 1222.8,407.6" stroke="#050505" stroke-width="7.5"/>
<path d="M1226.6,370.9C1227.5,377.7 1228.2,384.4 1229.4,391.2C1230.6,398.1 1232.3,405.1 1233.7,412.0" stroke="#050505" stroke-width="7.5"/>
<path d="M1252.9,379.1C1246.1,382.0 1233.1,383.8 1232.6,387.9C1232.0,392.8 1249.5,401.0 1257.9,407.6" stroke="#050505" stroke-width="7.5"/>
<path d="M1279.0,377.0C1278.6,380.7 1277.8,384.2 1277.8,388.0C1277.8,392.2 1278.3,397.1 1279.0,401.0C1279.6,404.3 1280.7,407.0 1281.5,410.0" stroke="#050505" stroke-width="7.5"/>
<path d="M541.5,414.6 l0.01,0" stroke="#104a8e" stroke-width="9.5"/>
<path d="M1336.5,414.8 l0.01,0" stroke="#104a8e" stroke-width="9.5"/>
<path d="M172.5,308.6 l0.01,0" stroke="#9f1219" stroke-width="8.8"/>
<path d="M1060.5,340.8 l0.01,0" stroke="#9f1219" stroke-width="9.3"/>
</g>
</svg>
</body></html>
